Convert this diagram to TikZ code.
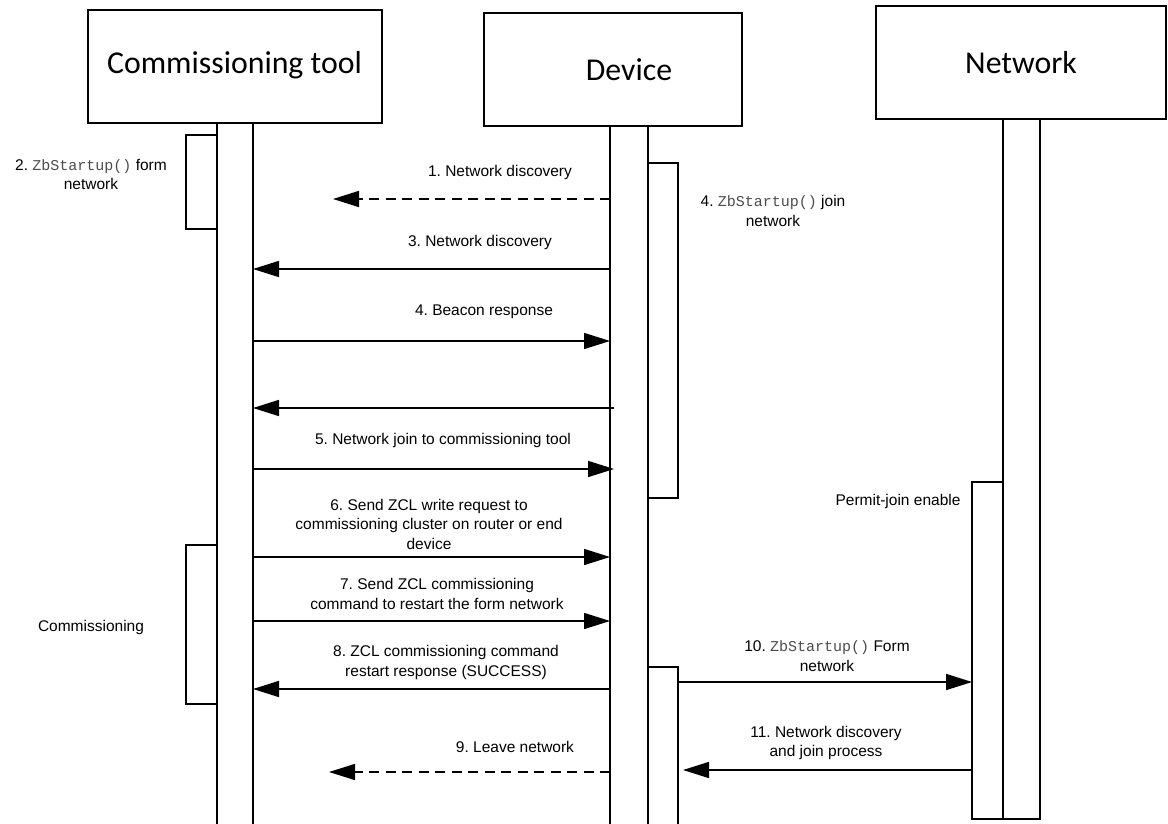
\documentclass[tikz,border=0pt]{standalone}
\usepackage{fontspec}
\setmainfont{Liberation Sans}
\setmonofont{Liberation Mono}
\newfontfamily\headfont{Carlito}
\usetikzlibrary{arrows.meta}
\frenchspacing

% API name set in a thin monospace face
\newcommand\zbcall{{\ttfamily\fontsize{15}{19.5}\selectfont\color{black!70}ZbStartup()}}

\tikzset{
  headbox/.style={draw, line width=1.6pt, inner sep=0pt, outer sep=0pt, anchor=north west},
  headtext/.style={font=\headfont\fontsize{31.8}{37}\selectfont, inner sep=0pt},
  lifebox/.style={draw, line width=1.5pt, inner sep=0pt, outer sep=0pt, anchor=north west},
  msg/.style={line width=1.6pt, -{Triangle[length=26pt,width=16pt]}},
  reply/.style={msg, dash pattern=on 10pt off 6.5pt},
  lbl/.style={font=\fontsize{15.5}{19.5}\selectfont, align=center, inner sep=0pt}
}

\begin{document}
\begin{tikzpicture}[x=1pt, y=-1pt]
\useasboundingbox (0,0) rectangle (1168,824);
\clip (0,0) rectangle (1168,824);

% participants
\node[headbox, minimum width=294pt, minimum height=113pt] (tool) at (88,10) {};
\node[headtext] (toolT) at (234.5,65) {Commissioning tool};
\node[headbox, minimum width=258pt, minimum height=113pt] (dev) at (484,13) {};
\node[headtext] (devT) at (629,70) {Device};
\node[headbox, minimum width=290pt, minimum height=113pt] (net) at (876,6) {};
\node[headtext] (netT) at (1021,63) {Network};

% lifelines
\node[lifebox, minimum width=36pt, minimum height=720pt] (toolL) at (217,123) {};
\node[lifebox, minimum width=38pt, minimum height=720pt] (devL) at (610,126) {};
\node[lifebox, minimum width=37pt, minimum height=700pt] (netL) at (1003,119) {};

% activation bars
\node[lifebox, minimum width=31pt, minimum height=94pt] (toolA) at (186,135) {};
\node[lifebox, minimum width=31pt, minimum height=159pt] (toolB) at (186,545) {};
\node[lifebox, minimum width=30pt, minimum height=335pt] (devA) at (648,163) {};
\node[lifebox, minimum width=30pt, minimum height=180pt] (devB) at (648,667) {};
\node[lifebox, minimum width=31pt, minimum height=337pt] (netA) at (972,482) {};

% message rows
\coordinate (r1) at (0,199);
\coordinate (r3) at (0,269);
\coordinate (r4) at (0,341);
\coordinate (rx) at (0,408);
\coordinate (r5) at (0,469);
\coordinate (r6) at (0,557);
\coordinate (r7) at (0,621);
\coordinate (r8) at (0,689);
\coordinate (r9) at (0,772);
\coordinate (r10) at (0,682);
\coordinate (r11) at (0,770);

% free ends and offsets
\coordinate (e1) at (333,199);
\coordinate (e9) at (329,772);
\coordinate (sx) at (614,408);
\coordinate (e5) at (614,469);
\coordinate (e11) at (683,770);

% messages
\draw[reply] (devL.west |- r1) -- (e1);
\draw[msg] (devL.west |- r3) -- (toolL.east |- r3);
\draw[msg] (toolL.east |- r4) -- (devL.west |- r4);
\draw[msg] (sx) -- (toolL.east |- rx);
\draw[msg] (toolL.east |- r5) -- (e5);
\draw[msg] (toolL.east |- r6) -- (devL.west |- r6);
\draw[msg] (toolL.east |- r7) -- (devL.west |- r7);
\draw[msg] (devL.west |- r8) -- (toolL.east |- r8);
\draw[reply] (devL.west |- r9) -- (e9);
\draw[msg] (devB.east |- r10) -- (netA.west |- r10);
\draw[msg] (netA.west |- r11) -- (e11);

% labels
\node[lbl] (l2) at (91,174.5) {2. \zbcall{} form\\network};
\node[lbl] (l1) at (500,172) {1. Network discovery};
\node[lbl] (l4j) at (773,211) {4. \zbcall{} join\\network};
\node[lbl] (l3) at (480,242) {3. Network discovery};
\node[lbl] (l4) at (484,312) {4. Beacon response};
\node[lbl] (l5) at (443,440) {5. Network join to commissioning tool};
\node[lbl] (lp) at (898,501) {Permit-join enable};
\node[lbl] (l6) at (429,524) {6. Send ZCL write request to\\commissioning cluster on router or end\\device};
\node[lbl] (l7) at (437,594) {7. Send ZCL commissioning\\command to restart the form network};
\node[lbl] (lc) at (91,627) {Commissioning};
\node[lbl] (l8) at (446,662.5) {8. ZCL commissioning command\\restart response (SUCCESS)};
\node[lbl] (l10) at (827,656) {10. \zbcall{} Form\\network};
\node[lbl] (l11) at (826,743) {11. Network discovery\\and join process};
\node[lbl] (l9) at (515,747) {9. Leave network};
\end{tikzpicture}
\end{document}
